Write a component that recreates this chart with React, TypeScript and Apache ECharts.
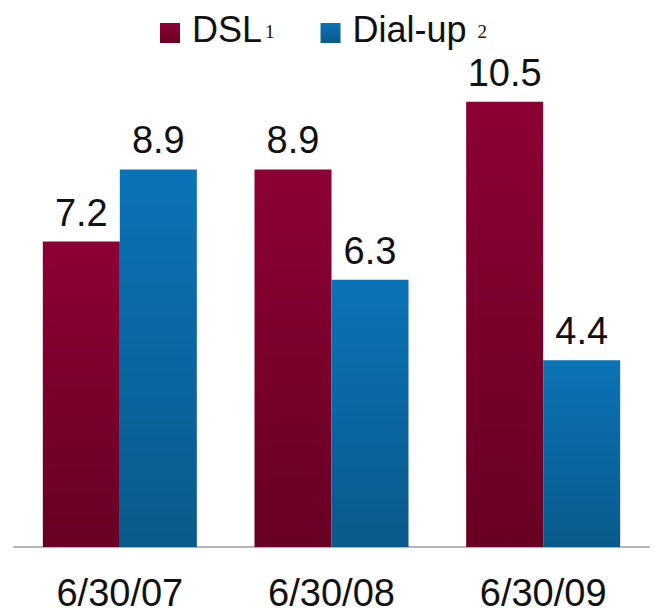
import React, { useEffect, useRef } from "react";
import * as echarts from "echarts";

const categories = ["6/30/07", "6/30/08", "6/30/09"];
const dslValues = [7.2, 8.9, 10.5];
const dialupValues = [8.9, 6.3, 4.4];
const seriesNames = ["DSL", "Dial-up"];
const footnotes: Record<string, string> = { DSL: "1", "Dial-up": "2" };

export default function App() {
  const ref = useRef<HTMLDivElement>(null);
  useEffect(() => {
    if (!ref.current) return;
    const chart = echarts.init(ref.current, null, { renderer: "svg" });
    const font = "'Liberation Sans', Arial, sans-serif";
    const serif = "'Liberation Serif', 'DejaVu Serif', serif";
    const valueLabel = {
      show: true,
      position: "top" as const,
      distance: 10,
      fontSize: 38,
      fontFamily: font,
      color: "#111",
      formatter: (p: any) => Number(p.value).toFixed(1),
    };
    chart.setOption({
      animation: false,
      backgroundColor: "#fff",
      legend: {
        top: 11,
        left: 160,
        padding: 0,
        itemWidth: 20,
        itemHeight: 20,
        itemGap: 46,
        icon: "rect",
        data: seriesNames,
        formatter: (name: string) => {
          const fn = footnotes[name];
          return name === "DSL" ? `{n|${name}}{s|${fn}}` : `{n|${name}}{s2|${fn}}`;
        },
        textStyle: {
          rich: {
            n: {
              fontSize: 36,
              fontFamily: font,
              color: "#111",
              lineHeight: 36,
              padding: [0, 0, 8, 7],
            },
            s: {
              fontSize: 19,
              fontFamily: serif,
              color: "#111",
              lineHeight: 36,
              padding: [0, 0, 4, 3],
            },
            s2: {
              fontSize: 19,
              fontFamily: serif,
              color: "#111",
              lineHeight: 36,
              padding: [0, 0, 4, 11],
            },
          },
        },
      },
      grid: { left: 14, right: 10, top: 38, bottom: 69 },
      xAxis: {
        type: "category",
        data: categories,
        axisLine: { lineStyle: { color: "#b5b5b5", width: 2 } },
        axisTick: { show: false },
        axisLabel: {
          margin: 27,
          fontSize: 38,
          fontFamily: font,
          color: "#111",
        },
      },
      yAxis: {
        type: "value",
        min: 0,
        max: 12,
        show: false,
        splitLine: { show: false },
      },
      series: [
        {
          name: "DSL",
          type: "bar",
          data: dslValues,
          barWidth: 77,
          barGap: "0%",
          itemStyle: {
            color: new echarts.graphic.LinearGradient(0, 0, 0, 1, [
              { offset: 0, color: "#8c0034" },
              { offset: 1, color: "#680024" },
            ]),
          },
          label: valueLabel,
        },
        {
          name: "Dial-up",
          type: "bar",
          data: dialupValues,
          barWidth: 77,
          barGap: "0%",
          itemStyle: {
            color: new echarts.graphic.LinearGradient(0, 0, 0, 1, [
              { offset: 0, color: "#0a73b6" },
              { offset: 1, color: "#0a5a8c" },
            ]),
          },
          label: valueLabel,
        },
      ],
    });
    return () => chart.dispose();
  }, []);
  return (
    <div
      ref={ref}
      style={{ position: "fixed", left: 0, top: 0, width: 659, height: 616 }}
    />
  );
}
